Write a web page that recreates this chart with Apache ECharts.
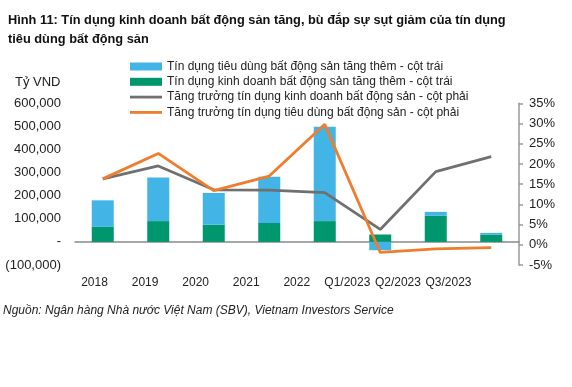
<!DOCTYPE html>
<html>
<head>
<meta charset="utf-8">
<script src="https://cdn.jsdelivr.net/npm/echarts@6/dist/echarts.min.js"></script>
<style>
html,body{margin:0;padding:0;background:#fff;}
#c{width:572px;height:387px;}
</style>
</head>
<body>
<div id="c"></div>
<script>
var categories = ['2018','2019','2020','2021','2022','Q1/2023','Q2/2023','Q3/2023'];
var tieuDungAdd = [115000, 189000, 137000, 200000, 408000, -36000, 17000, 7000];
var kinhDoanhAdd = [65000, 90000, 75000, 82000, 90000, 32000, 113000, 32000];
var growthKinhDoanh = [16.3, 19.5, 13.6, 13.5, 12.9, 3.8, 18.1, 21.8];
var growthTieuDung = [16.3, 22.6, 13.4, 17.0, 29.8, -1.9, -1.0, -0.7];
var leftAxis = {min: -100000, max: 600000, interval: 100000};
var rightAxis = {min: -5, max: 35, interval: 5};
var names = [
  'Tín dụng tiêu dùng bất động sản tăng thêm - cột trái',
  'Tín dụng kinh doanh bất động sản tăng thêm - cột trái',
  'Tăng trưởng tín dụng kinh doanh bất động sản - cột phải',
  'Tăng trưởng tín dụng tiêu dùng bất động sản - cột phải'
];

var FONT = '"Liberation Sans", Arial, sans-serif';
var LINE_ICON = 'path://M0,0L32,0L32,2.8L0,2.8Z';
var chart = echarts.init(document.getElementById('c'), null, {renderer: 'canvas'});

function fmtLeft(v){
  if (v === 0) return '-';
  var s = Math.abs(v).toLocaleString('en-US');
  return v < 0 ? '(' + s + ')' : s;
}

chart.setOption({
  animation: false,
  backgroundColor: '#ffffff',
  textStyle: {fontFamily: FONT},
  title: {
    text: 'Hình 11: Tín dụng kinh doanh bất động sản tăng, bù đắp sự sụt giảm của tín dụng\ntiêu dùng bất động sản',
    left: 3, top: 6,
    textStyle: {fontFamily: FONT, fontSize: 12.8, fontWeight: 'bold', color: '#111', lineHeight: 19}
  },
  graphic: [
    {type: 'text', left: 15, top: 76, style: {text: 'Tỷ VND', font: '13px ' + FONT, fill: '#222'}},
    {type: 'text', left: 3, top: 305, style: {text: 'Nguồn: Ngân hàng Nhà nước Việt Nam (SBV), Vietnam Investors Service', font: 'italic 12px ' + FONT, fill: '#222'}}
  ],
  legend: {
    orient: 'vertical',
    left: 125, top: 54,
    itemWidth: 32, itemHeight: 8, itemGap: 0.3, itemTextGap: 4,
    symbolKeepAspect: true,
    textStyle: {fontFamily: FONT, fontSize: 12, color: '#222', lineHeight: 15},
    data: [
      {name: names[0], icon: 'rect'},
      {name: names[1], icon: 'rect'},
      {name: names[2], icon: LINE_ICON},
      {name: names[3], icon: LINE_ICON}
    ]
  },
  grid: [
    {left: 75, right: 53, top: 103.3, bottom: 122},
    {left: 69.2, right: 98.2, top: 103.3, bottom: 122}
  ],
  xAxis: [
    {type: 'category', gridIndex: 0, data: categories, boundaryGap: true,
     axisLine: {onZero: true, onZeroAxisIndex: 0, lineStyle: {color: '#8a8a8a', width: 1.5}},
     axisTick: {show: false}, axisLabel: {show: false}},
    {type: 'category', gridIndex: 1, data: categories, boundaryGap: true,
     axisLine: {show: false}, axisTick: {show: false},
     axisLabel: {interval: 0, margin: 12, fontFamily: FONT, fontSize: 12, color: '#222'}}
  ],
  yAxis: [
    {type: 'value', gridIndex: 0, min: leftAxis.min, max: leftAxis.max, interval: leftAxis.interval,
     axisLine: {show: false}, axisTick: {show: false}, splitLine: {show: false},
     axisLabel: {margin: 14, fontFamily: FONT, fontSize: 13, color: '#222', formatter: fmtLeft}},
    {type: 'value', gridIndex: 0, position: 'right', min: rightAxis.min, max: rightAxis.max, interval: rightAxis.interval,
     axisLine: {show: true, lineStyle: {color: '#9a9a9a', width: 1.5}},
     axisTick: {show: true, length: 4, lineStyle: {color: '#9a9a9a', width: 1.5}},
     splitLine: {show: false},
     axisLabel: {margin: 10, fontFamily: FONT, fontSize: 13, color: '#222', formatter: '{value}%'}},
    {type: 'value', gridIndex: 1, show: false}
  ],
  series: [
    {name: names[1], type: 'bar', stack: 'a', xAxisIndex: 0, yAxisIndex: 0, barWidth: 22,
     itemStyle: {color: '#00966e'}, data: kinhDoanhAdd},
    {name: names[0], type: 'bar', stack: 'a', xAxisIndex: 0, yAxisIndex: 0, barWidth: 22,
     itemStyle: {color: '#42b4e6'}, data: tieuDungAdd},
    {name: names[2], type: 'line', xAxisIndex: 0, yAxisIndex: 1, symbol: 'none', z: 5,
     lineStyle: {color: '#707070', width: 2.8}, itemStyle: {color: '#707070'}, data: growthKinhDoanh},
    {name: names[3], type: 'line', xAxisIndex: 0, yAxisIndex: 1, symbol: 'none', z: 6,
     lineStyle: {color: '#f07d2e', width: 2.8}, itemStyle: {color: '#f07d2e'}, data: growthTieuDung}
  ]
});
</script>
</body>
</html>
